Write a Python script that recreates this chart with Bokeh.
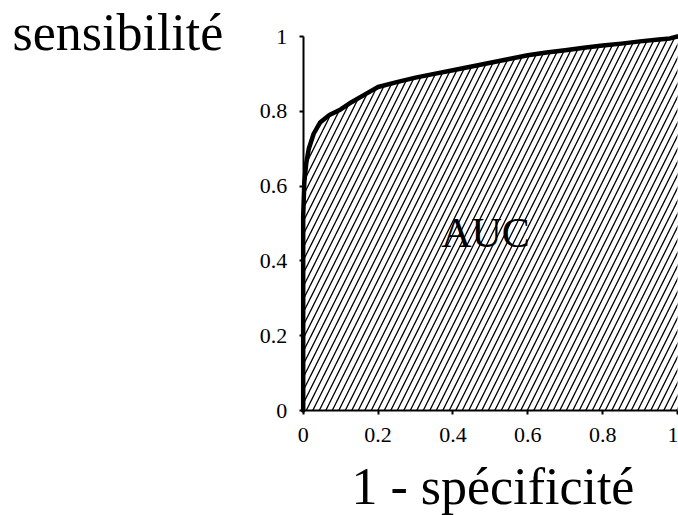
from bokeh.plotting import figure
from bokeh.models import Range1d, FixedTicker, Label
from bokeh.embed import file_html
from bokeh.resources import INLINE

# ROC curve
fpr = [0, 0, 0.003, 0.008, 0.015, 0.028, 0.045, 0.07, 0.1, 0.13, 0.17, 0.2, 0.25, 0.3,
       0.35, 0.4, 0.45, 0.5, 0.55, 0.6, 0.65, 0.7, 0.75, 0.8, 0.85, 0.9, 0.95, 0.98, 1.0]
tpr = [0, 0.52, 0.61, 0.66, 0.70, 0.74, 0.77, 0.79, 0.805, 0.825, 0.848, 0.865, 0.878, 0.89,
       0.90, 0.91, 0.92, 0.93, 0.94, 0.95, 0.957, 0.963, 0.97, 0.976, 0.981, 0.987, 0.992, 0.995, 1.0]

tick_values = [0, 0.2, 0.4, 0.6, 0.8, 1]
tick_labels = ["0", "0.2", "0.4", "0.6", "0.8", "1"]

y_title = "sensibilité"
x_title = "1 - spécificité"
area_label = "AUC"

FONT = "Liberation Serif"

p = figure(width=678, height=515, output_backend="svg", toolbar_location=None,
           title=None,
           x_range=Range1d(-0.8087, 1.0027), y_range=Range1d(-0.2807, 1.0963),
           min_border=0)
p.outline_line_color = None
p.xgrid.grid_line_color = None
p.ygrid.grid_line_color = None
p.background_fill_color = "white"
p.border_fill_color = "white"

p.varea(x=fpr, y1=[0] * len(fpr), y2=tpr, fill_color=None, fill_alpha=0,
        hatch_pattern="/", hatch_color="black", hatch_scale=13, hatch_weight=1.3)
p.line(fpr, tpr, line_width=4.5, line_color="black", line_join="round", line_cap="round")

overrides = {v: l for v, l in zip(tick_values, tick_labels)}
for ax in (p.xaxis[0], p.yaxis[0]):
    ax.fixed_location = 0
    ax.ticker = FixedTicker(ticks=tick_values)
    ax.major_label_overrides = overrides
    ax.bounds = (0, 1)
    ax.axis_line_width = 2
    ax.axis_line_color = "black"
    ax.major_tick_line_width = 2
    ax.major_tick_line_color = "black"
    ax.major_tick_in = 0
    ax.major_tick_out = 4
    ax.minor_tick_line_color = None
    ax.major_label_text_font = FONT
    ax.major_label_text_font_size = "22px"
    ax.major_label_text_color = "black"
p.xaxis.major_label_standoff = 13
p.yaxis.major_label_standoff = 12

p.add_layout(Label(x=-0.7767, y=1.011, text=y_title, text_font=FONT,
                   text_font_size="52px", text_color="black",
                   text_align="left", text_baseline="alphabetic"))
p.add_layout(Label(x=0.507, y=-0.2032, text=x_title, text_font=FONT,
                   text_font_size="52px", text_color="black",
                   text_align="center", text_baseline="alphabetic"))
p.add_layout(Label(x=0.487, y=0.474, text=area_label, text_font=FONT,
                   text_font_size="42px", text_color="black",
                   text_align="center", text_baseline="alphabetic"))

open("out.html", "w").write(file_html(p, INLINE))
